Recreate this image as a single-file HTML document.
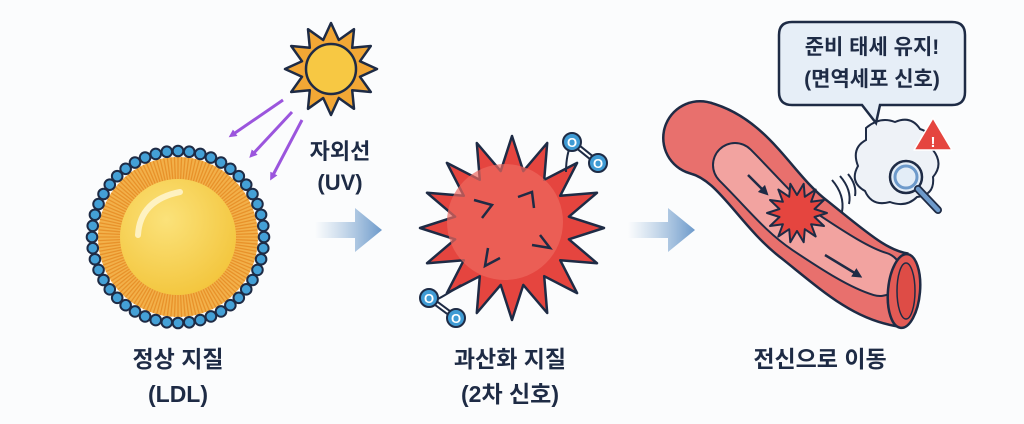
<!DOCTYPE html>
<html><head><meta charset="utf-8"><style>
html,body{margin:0;padding:0;background:#fbfcfd;}
svg{display:block}
text{font-family:"Liberation Sans","Noto Sans CJK KR",sans-serif;font-weight:bold;fill:#1e2b45;text-anchor:middle}
</style></head><body>
<svg id="s" width="1024" height="424" viewBox="0 0 1024 424" xmlns="http://www.w3.org/2000/svg">
<defs>
<linearGradient id="ag" x1="0" x2="1"><stop offset="0" stop-color="#8fb3d6" stop-opacity="0"/><stop offset="1" stop-color="#6d9acb"/></linearGradient>
<radialGradient id="yg" cx="0.4" cy="0.35" r="0.7"><stop offset="0" stop-color="#fbe27a"/><stop offset="1" stop-color="#f3c53c"/></radialGradient>
<marker id="pm" markerWidth="8" markerHeight="8" refX="4" refY="4" orient="auto" markerUnits="userSpaceOnUse" viewBox="0 0 8 8"><path d="M0,0 L8,4 L0,8 z" fill="#9b55dd"/></marker>
<marker id="dm" markerWidth="10" markerHeight="10" refX="5" refY="5" orient="auto" markerUnits="userSpaceOnUse" viewBox="0 0 10 10"><path d="M0,0 L10,5 L0,10 z" fill="#1e2b45"/></marker>
</defs>
<g id="g"></g>
<g stroke="#9b55dd" stroke-width="3" fill="none">
<line x1="283" y1="100" x2="232" y2="135" marker-end="url(#pm)"/>
<line x1="292" y1="112" x2="252" y2="155" marker-end="url(#pm)"/>
<line x1="302" y1="120" x2="272" y2="177" marker-end="url(#pm)"/>
</g>
<text x="340" y="159" font-size="22">자외선</text>
<text x="340" y="190" font-size="22">(UV)</text>
<path d="M315,222 H355 V208 L382,230 L355,252 V238 H315 Z" fill="url(#ag)"/>
<path d="M628,222 H668 V208 L695,230 L668,252 V238 H628 Z" fill="url(#ag)"/>
<!-- vessel -->
<path d="M700,138 C745,150 765,200 805,230 C845,262 870,285 903,290" stroke="#1e2b45" stroke-width="76" fill="none"/>
<circle cx="700" cy="138" r="38" fill="#1e2b45"/>
<path d="M700,138 C745,150 765,200 805,230 C845,262 870,285 903,290" stroke="#e8706d" stroke-width="71" fill="none"/>
<circle cx="700" cy="138" r="35.5" fill="#e8706d"/>
<path d="M735,165 C765,195 780,215 805,232 C835,252 860,268 880,274" stroke="#1e2b45" stroke-width="46" fill="none" stroke-linecap="round"/>
<path d="M735,165 C765,195 780,215 805,232 C835,252 860,268 880,274" stroke="#f2a3a0" stroke-width="42" fill="none" stroke-linecap="round"/>
<ellipse cx="904" cy="291" rx="16" ry="37" transform="rotate(5 904 291)" fill="#e35a55" stroke="#1e2b45" stroke-width="2.5"/>
<ellipse cx="906" cy="291" rx="9" ry="28" fill="#de4c46" stroke="#1e2b45" stroke-width="1.5"/>
<line x1="748" y1="175" x2="765" y2="192" stroke="#1e2b45" stroke-width="2.5" marker-end="url(#dm)"/>
<line x1="825" y1="255" x2="858" y2="275" stroke="#1e2b45" stroke-width="2.5" marker-end="url(#dm)"/>
<g id="s2"></g>
<g stroke="#1e2b45" stroke-width="2" fill="none">
<path d="M832,180 Q845,195 842,212"/><path d="M840,176 Q852,190 849,204"/><path d="M848,174 Q857,185 855,196"/>
</g>
<path d="M866,128 q14,-12 29,-6 q16,-7 25,7 q16,5 13,21 q11,14 0,27 q2,18 -16,20 q-11,11 -27,5 q-18,5 -25,-11 q-16,-9 -7,-25 q-7,-18 8,-26 z" fill="#eef2f7" stroke="#1e2b45" stroke-width="2"/>
<circle cx="906" cy="177" r="16" fill="#e3edf7" stroke="#1e2b45" stroke-width="2.5"/>
<circle cx="906" cy="177" r="11" fill="none" stroke="#6d9acb" stroke-width="3"/>
<line x1="918" y1="189" x2="938" y2="210" stroke="#1e2b45" stroke-width="8" stroke-linecap="round"/>
<line x1="918" y1="189" x2="938" y2="210" stroke="#6d9acb" stroke-width="4.5" stroke-linecap="round"/>
<path d="M933,118 L952,150 L914,150 Z" fill="#e5453f" stroke="#fff" stroke-width="1.5" stroke-linejoin="round"/>
<text x="933" y="147" font-size="15" style="fill:#fff">!</text>
<path d="M792,22 H952 Q965,22 965,35 V92 Q965,105 952,105 H880 L876,123 L862,105 H792 Q779,105 779,92 V35 Q779,22 792,22 Z" fill="#e6eef7" stroke="#1e2b45" stroke-width="2.5"/>
<text x="872" y="54" font-size="21">준비 태세 유지!</text>
<text x="872" y="86" font-size="21">(면역세포 신호)</text>
<text x="178" y="367" font-size="23">정상 지질</text>
<text x="178" y="402" font-size="23">(LDL)</text>
<text x="510" y="367" font-size="23">과산화 지질</text>
<text x="510" y="402" font-size="23">(2차 신호)</text>
<text x="820" y="367" font-size="23">전신으로 이동</text>
</svg>
<script>
var NS="http://www.w3.org/2000/svg";
function el(p,t,a){var e=document.createElementNS(NS,t);for(var k in a)e.setAttribute(k,a[k]);p.appendChild(e);return e;}
function star(cx,cy,ro,ri,n,rot){var p=[];for(var i=0;i<2*n;i++){var r=i%2?ri:ro,a=rot+Math.PI*i/n;p.push((cx+r*Math.cos(a)).toFixed(1)+","+(cy+r*Math.sin(a)).toFixed(1));}return p.join(" ");}
var g=document.getElementById("g");
el(g,"polygon",{points:star(331,69,46,30,12,-Math.PI/2),fill:"#f2a735",stroke:"#1e2b45","stroke-width":2.5,"stroke-linejoin":"round"});
el(g,"circle",{cx:331,cy:69,r:25,fill:"#f7c843",stroke:"#1e2b45","stroke-width":2.5});
el(g,"circle",{cx:178,cy:237,r:80,fill:"#f2b04a"});
for(var i=0;i<140;i++){var a=2*Math.PI*i/140;el(g,"line",{x1:178+58*Math.cos(a),y1:237+58*Math.sin(a),x2:178+80*Math.cos(a),y2:237+80*Math.sin(a),stroke:"#e8922a","stroke-width":1.3});}
el(g,"circle",{cx:178,cy:237,r:58,fill:"url(#yg)"});
el(g,"path",{d:"M138,235 Q140,200 180,192",stroke:"#fff8d8","stroke-width":6,fill:"none","stroke-linecap":"round",opacity:0.8});
for(var i=0;i<48;i++){var a=2*Math.PI*i/48;el(g,"circle",{cx:178+86*Math.cos(a),cy:237+86*Math.sin(a),r:5.3,fill:"#44a0d6",stroke:"#1e2b45","stroke-width":2});}
el(g,"polygon",{points:star(512,228,92,58,16,-Math.PI/2),fill:"#e5453f",stroke:"#1e2b45","stroke-width":2.5,"stroke-linejoin":"round"});
el(g,"circle",{cx:505,cy:222,r:58,fill:"#ee6a60",opacity:0.7});
var vs=[[474,200,492,205,482,218],[518,197,532,192,534,208],[488,248,485,266,500,258],[532,245,550,248,540,235]];
vs.forEach(function(v){el(g,"polyline",{points:v.join(" "),fill:"none",stroke:"#1e2b45","stroke-width":2.5});});
function o2(x1,y1,x2,y2,lx,ly){el(g,"path",{d:"M"+lx+","+ly+" Q"+(x1-6)+","+(y1+12)+" "+x1+","+y1,stroke:"#1e2b45","stroke-width":2,fill:"none"});
el(g,"line",{x1:x1,y1:y1,x2:x2,y2:y2,stroke:"#1e2b45","stroke-width":6});el(g,"line",{x1:x1,y1:y1,x2:x2,y2:y2,stroke:"#fff","stroke-width":2});
[[x1,y1],[x2,y2]].forEach(function(c){el(g,"circle",{cx:c[0],cy:c[1],r:9,fill:"#3f9bd4",stroke:"#1e2b45","stroke-width":2});var t=el(g,"text",{x:c[0],y:c[1]+5,"font-size":13,style:"fill:#fff"});t.textContent="O";});}
o2(572,142,598,163,566,172);o2(429,298,456,318,461,285);
var s2=document.getElementById("s2");
el(s2,"polygon",{points:star(797,213,30,18,14,0),fill:"#e5453f",stroke:"#1e2b45","stroke-width":2,"stroke-linejoin":"round"});
</script>
</body></html>
